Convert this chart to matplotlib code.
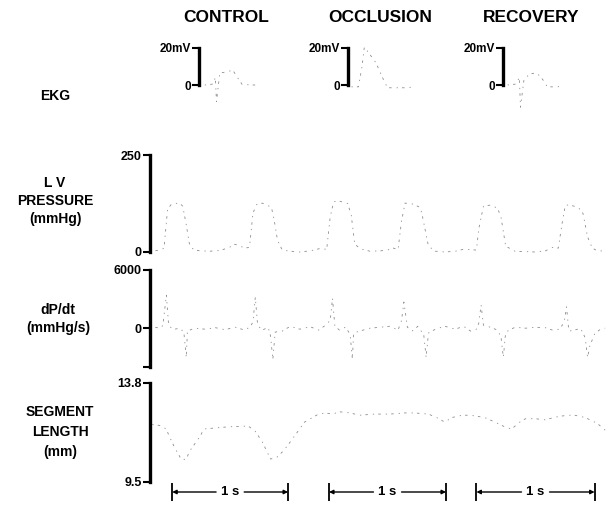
import matplotlib
matplotlib.use('Agg')
import matplotlib.pyplot as plt

plt.rcParams['font.family'] = ['Liberation Sans', 'DejaVu Sans']
plt.rcParams['font.weight'] = 'bold'

W, H = 609, 507

# condition titles and time-bar positions (s, on the shared trace time axis)
conditions = ['CONTROL', 'OCCLUSION', 'RECOVERY']
bar_start = [0.19, 1.53, 2.79]
bar_end = [1.18, 2.53, 3.80]

# EKG (mV), time from each scale bar (s)
ekg_control_t = [0.05, 0.12, 0.14, 0.15, 0.17, 0.18, 0.23, 0.29, 0.33, 0.37, 0.46, 0.50]
ekg_control_v = [0, 0.5, 4, -9, 2, 6.5, 7, 8, 4, 0.3, 0, 0]
ekg_occl_t = [0.03, 0.09, 0.12, 0.14, 0.17, 0.24, 0.31, 0.34, 0.51, 0.56]
ekg_occl_v = [-1, -1, 10, 20.5, 18, 12, 2, -1.5, -1.5, -1]
ekg_recov_t = [0.04, 0.11, 0.14, 0.15, 0.18, 0.23, 0.29, 0.34, 0.38, 0.47, 0.50]
ekg_recov_v = [0, 0.5, 4, -12, 3, 6, 6.5, 3, -1, -1, -0.5]

# LV pressure (mmHg)
lv_t = [0.00, 0.04, 0.09, 0.12, 0.15, 0.18, 0.21, 0.26, 0.28, 0.31, 0.34, 0.38, 0.43,
        0.51, 0.60, 0.68, 0.72, 0.75, 0.81, 0.85, 0.88, 0.91, 0.96, 1.01, 1.04, 1.06,
        1.09, 1.13, 1.20, 1.28, 1.37, 1.44, 1.47, 1.51, 1.54, 1.57, 1.62, 1.69, 1.72,
        1.75, 1.80, 1.88, 1.97, 2.03, 2.08, 2.12, 2.15, 2.18, 2.24, 2.31, 2.33, 2.38,
        2.44, 2.52, 2.61, 2.68, 2.74, 2.79, 2.81, 2.85, 2.91, 2.97, 3.00, 3.04, 3.12,
        3.21, 3.29, 3.38, 3.44, 3.49, 3.52, 3.55, 3.59, 3.66, 3.70, 3.74, 3.78, 3.83, 3.89]
lv_p = [2, 3, 5, 10, 110, 122, 126, 124, 118, 70, 15, 5, 3,
        2, 4, 12, 20, 18, 10, 12, 100, 122, 126, 120, 112, 85,
        30, 5, 2, 0, 3, 8, 10, 6, 90, 130, 131, 125, 95,
        20, 8, 2, 3, 5, 10, 6, 80, 126, 124, 115, 90, 15,
        2, 0, 2, 7, 6, 5, 60, 118, 121, 113, 90, 15, 2,
        1, 0, 3, 12, 10, 70, 121, 121, 115, 100, 39, 10, 2, 4]

# dP/dt (mmHg/s)
dp_t = [0.00, 0.04, 0.09, 0.11, 0.14, 0.16, 0.21, 0.26, 0.29, 0.31, 0.32, 0.38, 0.47,
        0.56, 0.64, 0.73, 0.81, 0.85, 0.88, 0.90, 0.92, 0.96, 1.01, 1.03, 1.05, 1.07,
        1.13, 1.20, 1.28, 1.37, 1.44, 1.50, 1.54, 1.56, 1.58, 1.62, 1.67, 1.71, 1.73,
        1.74, 1.79, 1.88, 1.97, 2.05, 2.12, 2.15, 2.17, 2.20, 2.24, 2.29, 2.34, 2.36,
        2.38, 2.44, 2.52, 2.61, 2.68, 2.74, 2.79, 2.81, 2.83, 2.85, 2.91, 2.97, 3.00,
        3.02, 3.04, 3.12, 3.21, 3.29, 3.38, 3.44, 3.50, 3.54, 3.56, 3.58, 3.63, 3.68,
        3.72, 3.74, 3.76, 3.80, 3.85, 3.89]
dp_v = [0, 100, 0, 300, 3400, 200, -100, 0, -500, -3000, -300, 0, -100,
        50, -150, 100, -200, 100, 600, 3200, 300, -200, 100, -800, -3200, -400,
        -300, 200, -100, 150, -200, 300, 800, 3100, 200, -200, 100, -600, -3200,
        -500, -300, 0, 100, 200, -200, 800, 2700, 100, -300, 200, -700, -3000,
        -500, -100, 200, -100, 200, -300, -100, 500, 2400, 300, 100, -200, -900,
        -3000, -400, 100, 0, 100, 50, -200, -100, 600, 2200, -300, -200, 0,
        -1000, -3000, -1800, -600, -100, 0]

# segment length (mm)
sl_t = [0.02, 0.09, 0.14, 0.16, 0.21, 0.27, 0.31, 0.34, 0.43, 0.46, 0.56, 0.68, 0.84,
        0.90, 0.96, 1.03, 1.08, 1.14, 1.20, 1.26, 1.32, 1.44, 1.50, 1.56, 1.62, 1.71,
        1.79, 1.92, 2.05, 2.18, 2.26, 2.38, 2.45, 2.52, 2.58, 2.67, 2.74, 2.80, 2.86,
        2.95, 3.03, 3.09, 3.16, 3.21, 3.29, 3.38, 3.45, 3.50, 3.57, 3.63, 3.72, 3.78,
        3.82, 3.89]
sl_mm = [12.0, 11.95, 11.8, 11.54, 11.0, 10.46, 10.5, 10.85, 11.5, 11.8, 11.85, 11.9, 11.93,
         11.7, 11.24, 10.5, 10.55, 10.85, 11.25, 11.67, 12.1, 12.45, 12.5, 12.45, 12.55, 12.5,
         12.4, 12.45, 12.45, 12.5, 12.5, 12.45, 12.3, 12.1, 12.3, 12.4, 12.4, 12.35, 12.3,
         12.1, 11.9, 11.8, 12.1, 12.25, 12.25, 12.2, 12.3, 12.35, 12.4, 12.4, 12.3, 12.15,
         12.06, 11.75]

T_MAX = 3.906
# faint, broken pen trace like the scanned record
TRACE = dict(color='0.55', lw=0.6, ls=(0, (1.5, 5, 3, 6)), clip_on=False)


def px_axes(fig, left, top, right, bottom):
    return fig.add_axes([left / W, 1 - bottom / H, (right - left) / W, (bottom - top) / H])


def bracket_axis(ax, ticks, labels, size=9):
    for s in ['top', 'right', 'bottom']:
        ax.spines[s].set_visible(False)
    ax.spines['left'].set_linewidth(2.4)
    ax.set_xticks([])
    ax.set_yticks(ticks)
    ax.set_yticklabels(labels)
    ax.tick_params(axis='y', length=5, width=1.5, pad=1, labelsize=size)
    ax.patch.set_alpha(0)


def label(fig, x, y, s, size=10):
    fig.text(x / W, 1 - y / H, s, ha='center', va='center', fontsize=size)


fig = plt.figure(figsize=(W / 100, H / 100), dpi=100)

# titles
for name, x in zip(conditions, [226, 380, 531]):
    label(fig, x, 18, name, size=12.5)

# EKG panels
ekg = [(199, ekg_control_t, ekg_control_v),
       (348, ekg_occl_t, ekg_occl_v),
       (503, ekg_recov_t, ekg_recov_v)]
for x0, t, v in ekg:
    ax = px_axes(fig, x0, 48, x0 + 70, 85)
    ax.set_xlim(0, 0.6)
    ax.set_ylim(0, 20)
    bracket_axis(ax, [0, 20], ['0', '20mV'], size=8.5)
    ax.plot(t, v, **TRACE)

# LV pressure
ax_lv = px_axes(fig, 150, 155, 150 + T_MAX * 117, 252)
ax_lv.set_xlim(0, T_MAX)
ax_lv.set_ylim(0, 250)
bracket_axis(ax_lv, [0, 250], ['0', '250'])
ax_lv.plot(lv_t, lv_p, **TRACE)

# dP/dt
ax_dp = px_axes(fig, 150, 270, 150 + T_MAX * 117, 367)
ax_dp.set_xlim(0, T_MAX)
ax_dp.set_ylim(-4000, 6000)
bracket_axis(ax_dp, [-4000, 0, 6000], ['', '0', '6000'])
ax_dp.plot(dp_t, dp_v, **TRACE)

# segment length
ax_sl = px_axes(fig, 150, 383, 150 + T_MAX * 117, 482)
ax_sl.set_xlim(0, T_MAX)
ax_sl.set_ylim(9.5, 13.8)
bracket_axis(ax_sl, [9.5, 13.8], ['9.5', '13.8'])
ax_sl.plot(sl_t, sl_mm, **TRACE)

# 1 s time bars
ax_tb = px_axes(fig, 150, 483, 150 + T_MAX * 117, 501)
ax_tb.set_xlim(0, T_MAX)
ax_tb.set_ylim(-1, 1)
ax_tb.axis('off')
arrow = dict(arrowstyle='-|>', lw=1, color='k', mutation_scale=6, shrinkA=0, shrinkB=0)
for t0, t1 in zip(bar_start, bar_end):
    mid = (t0 + t1) / 2
    ax_tb.vlines([t0, t1], -1, 1, color='k', lw=1.3)
    ax_tb.annotate('', xy=(t0, 0), xytext=(mid - 0.12, 0), arrowprops=arrow)
    ax_tb.annotate('', xy=(t1, 0), xytext=(mid + 0.12, 0), arrowprops=arrow)
    ax_tb.text(mid, 0, '1 s', ha='center', va='center', fontsize=9.5)

# row labels
label(fig, 55, 96, 'EKG')
label(fig, 55, 183, 'L V')
label(fig, 55, 201, 'PRESSURE')
label(fig, 55, 219, '(mmHg)')
label(fig, 58, 310, 'dP/dt')
label(fig, 58, 328, '(mmHg/s)')
label(fig, 60, 412, 'SEGMENT')
label(fig, 60, 432, 'LENGTH')
label(fig, 60, 452, '(mm)')

fig.savefig('out.png', dpi=100)
